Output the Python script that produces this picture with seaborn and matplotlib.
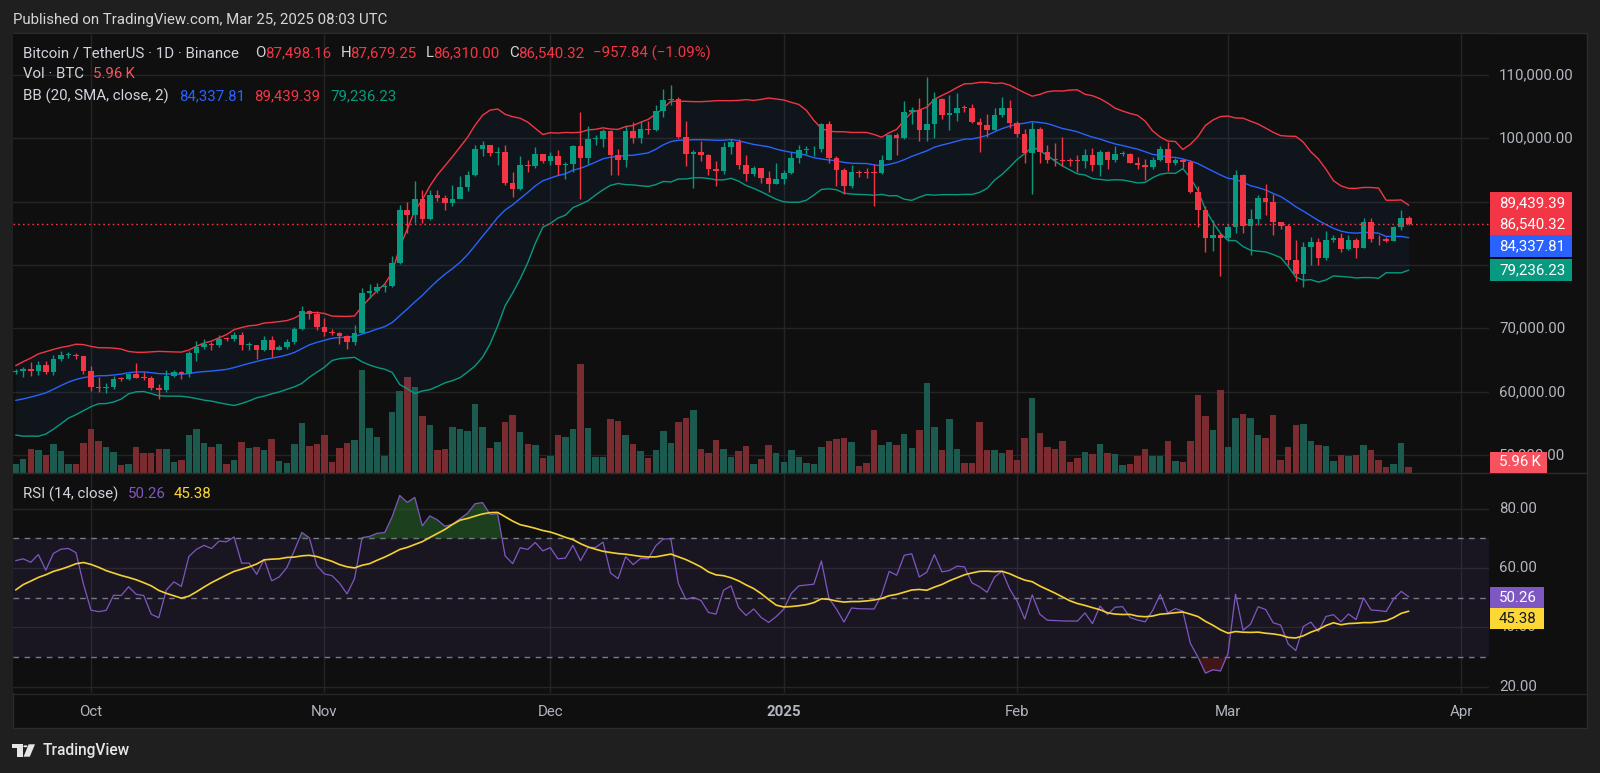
import numpy as np
import pandas as pd
import matplotlib
matplotlib.use("Agg")
import matplotlib.pyplot as plt
import seaborn as sns
from matplotlib.patches import Rectangle, Polygon, Circle
from matplotlib.transforms import blended_transform_factory as blend

# ---------------- data (BTCUSDT daily, Binance) ----------------
start_date = "2024-09-21"
# closes before the first visible candle (Jul 1 .. Sep 20 2024), used to warm up BB / RSI
warmup_closes = [
    62850, 62030, 60200, 57060, 56660, 58230, 55850, 56710, 58050, 57720, 57340, 57890, 59200, 60800,
    64720, 65040, 64090, 63970, 66680, 67150, 68160, 67540, 65930, 65370, 65780, 67910, 67810, 68250,
    66780, 66190, 64620,
    65350, 61500, 60680, 58120, 54020, 56040, 55130, 61690, 60840, 60920, 58710, 59350, 60600, 58740,
    57560, 58880, 59480, 58430, 59480, 59010, 61160, 60380, 64100, 64180, 64220, 62830, 59420, 59030,
    59360, 59120, 58970,
    57300, 59130, 57490, 57970, 56160, 53960, 54160, 54870, 57050, 57640, 57340, 58130, 60570, 60010,
    59130, 58210, 60310, 61760, 62950, 63200,
]
closes = [
    63350, 63580, 63330, 64260, 63140, 65180, 65770, 65870, 65600, 63300,
    60800, 60650, 60750, 62070, 62050, 62820, 62220, 62130, 60580, 60270, 62440, 63190, 62850, 66080,
    67040, 67610, 67400, 68400, 68360, 69000, 67370, 67380, 66650, 68160, 66630, 67020, 67930, 69910,
    72720, 72340, 70220,
    69500, 69360, 68740, 67810, 69360, 75640, 75900, 76540, 76680, 80370, 88650, 87950, 90380, 87300,
    91050, 90570, 89850, 90460, 92310, 94290, 98320, 98890, 97670, 97900, 93010, 91960, 95860, 95640,
    97460, 96410,
    97190, 95840, 95990, 98770, 96950, 99870, 99920, 101130, 97360, 96590, 101120, 100040, 101420,
    101370, 104300, 106060, 106140, 100200, 97460, 97800, 97290, 95190, 94880, 98660, 99430, 95790,
    94300, 95300, 93740, 92790, 93580,
    94590, 96890, 98110, 98240, 98360, 102240, 96950, 95040, 92480, 94700, 94570, 94550, 94520, 96530,
    100500, 99990, 104080, 104440, 101330, 102260, 106140, 103650, 103930, 104820, 104730, 102620,
    102080, 101330, 103730, 104730, 102430,
    100640, 97690, 101400, 97870, 96620, 96550, 96480, 96470, 96450, 97390, 95780, 97870, 96620, 97500,
    97570, 96120, 95770, 95540, 96640, 98330, 96130, 96580, 96270, 91550, 88740, 84350, 84700, 84350,
    86060, 94270, 86120, 87220, 90620, 89960, 86740, 86150, 80730, 78530, 82860, 83720, 81070, 83970,
    84340, 82580, 84010, 82720, 86850, 84170, 84040, 83830, 86080, 87498.16, 86540.32,
]
highs = [
    63560, 64000, 64750, 64800, 64810, 65800, 66500, 66260, 66080, 65620,
    64130, 62390, 61470, 62480, 62370, 62980, 64480, 63200, 62540, 61320, 63400, 63480, 63290, 66500,
    67950, 68420, 67930, 68960, 68700, 69400, 69500, 67830, 67450, 68830, 68800, 67450, 68370, 70270,
    73620, 72960, 72700,
    71630, 69910, 69400, 69000, 70580, 76460, 76950, 77200, 76950, 81500, 89530, 89960, 93260, 91790,
    91850, 91800, 91000, 92600, 94000, 94900, 98980, 99590, 98830, 98650, 98870, 94700, 97210, 96650,
    98690, 97460,
    97900, 98160, 96300, 99000, 104090, 101900, 100550, 101400, 101320, 98270, 101900, 102540, 102650,
    102650, 105250, 107790, 108350, 106470, 102800, 98150, 99540, 97450, 96420, 99400, 99960, 99960,
    97300, 95670, 95370, 94900, 96150,
    94930, 97840, 98980, 98740, 98800, 102480, 102720, 97260, 95380, 95840, 95000, 95360, 95900, 97370,
    100680, 100860, 105870, 104990, 106310, 109590, 107240, 106330, 106850, 107100, 105280, 105460,
    103220, 103780, 104780, 106460, 106010,
    102780, 101460, 102500, 101750, 99000, 99200, 100140, 96880, 97330, 98350, 98500, 98120, 98000,
    98830, 97970, 97730, 97040, 96700, 97000, 98770, 99480, 96900, 96670, 96500, 92510, 89290, 87080,
    85120,
    86560, 95000, 94420, 88910, 91000, 92810, 91280, 86850, 86500, 83960, 83620, 84360, 84300, 85310,
    84670, 85050, 84720, 84350, 87450, 87440, 84780, 84510, 86100, 88760, 87679.25,
]
lows = [
    62760, 62400, 62560, 62700, 62870, 62670, 64800, 65420, 65250, 62860,
    60160, 59980, 59830, 60460, 61690, 61800, 62120, 61820, 60300, 58950, 60050, 62420, 62000, 62420,
    64800, 66750, 66670, 67100, 68100, 68100, 66570, 66570, 65260, 66440, 65520, 66530, 66810, 67550,
    69730, 71420, 69690,
    68820, 68900, 67480, 66840, 67460, 69320, 74750, 75570, 75830, 76490, 80220, 85070, 86620, 86670,
    87060, 90090, 88720, 89390, 90950, 91610, 94110, 97130, 97180, 95760, 92600, 90790, 91820, 94650,
    95330, 96150,
    95770, 94200, 93580, 94660, 90500, 95980, 98950, 98690, 94150, 94250, 95500, 99310, 99210, 100620,
    101230, 103330, 105320, 100000, 95670, 92180, 96400, 94200, 92400, 94420, 97600, 95140, 93270,
    94100, 93000, 91530, 92780,
    92800, 94400, 96120, 97530, 97250, 97910, 96130, 92500, 91200, 92200, 93830, 93700, 89260, 94320,
    96500, 97300, 99950, 102280, 99600, 99550, 100120, 103110, 101260, 102750, 104100, 102460, 97780,
    100230, 101330, 103330, 101550,
    100280, 96150, 91230, 96150, 96160, 95680, 95620, 95690, 94710, 95250, 94850, 94090, 95150, 96250,
    97230, 96050, 95200, 93390, 95200, 96420, 94870, 95720, 95270, 91370, 86050, 82130, 82260, 78260,
    83830, 85050, 85080, 81530, 86330, 87850, 84670, 85750, 80000, 77460, 76610, 80050, 79940, 80760,
    83630, 82020, 82460, 81140, 82640, 83650, 83180, 83650, 83770, 85540, 86310,
]
vol_k = [
    8.5, 13.5, 23.0, 21.5, 17.0, 27.2, 21.1, 8.8, 8.2, 28.1,
    41.3, 30.0, 24.6, 19.9, 7.6, 8.8, 24.6, 18.6, 18.6, 23.0, 22.4, 10.4, 12.0, 35.7, 41.6, 28.1, 24.3,
    27.2, 8.2, 12.0, 29.3, 23.9, 24.3, 21.5, 32.6, 11.6, 9.0, 27.7, 47.3, 25.5, 27.7,
    36.2, 10.7, 23.7, 28.7, 31.2, 97.7, 42.6, 34.3, 16.4, 58.0, 77.3, 91.1, 81.4, 53.6, 45.1, 21.8, 23.0,
    43.8, 41.6, 39.7, 65.3, 43.8, 23.7, 29.6, 48.2, 54.6, 39.1, 27.4, 26.8, 14.2,
    16.4, 36.2, 33.8, 41.6, 103.1, 42.6, 14.9, 14.9, 51.1, 48.9, 35.9, 27.7, 20.8, 13.9, 21.8, 39.4, 28.1,
    48.0, 52.0, 59.6, 22.7, 18.6, 31.5, 22.7, 14.9, 20.5, 25.3, 8.5, 13.2, 26.5, 18.9,
    10.1, 21.8, 15.4, 9.2, 8.5, 24.3, 30.6, 32.2, 32.8, 29.6, 6.9, 9.2, 40.7, 26.8, 29.3, 26.8, 37.2, 23.4,
    41.0, 84.9, 43.5, 21.8, 51.1, 22.7, 9.2, 9.5, 48.2, 21.8, 21.8, 18.6, 21.8,
    12.3, 32.8, 70.7, 38.1, 24.9, 22.7, 30.3, 10.1, 13.9, 19.6, 18.0, 27.7, 18.9, 18.0, 7.9, 8.5, 16.1,
    22.7, 15.8, 16.4, 30.6, 11.6, 10.7, 30.6, 73.8, 53.6, 40.7, 78.5,
    24.9, 51.7, 55.8, 52.0, 36.2, 33.1, 54.6, 12.6, 24.9, 45.1, 46.4, 30.6, 26.5, 25.5, 11.6, 17.3, 16.4,
    17.3, 26.8, 21.8, 12.3, 6.0, 8.5, 28.7, 5.96,
]
month_labels = ["Oct", "Nov", "Dec", "2025", "Feb", "Mar", "Apr"]
month_starts = ["2024-10-01", "2024-11-01", "2024-12-01", "2025-01-01", "2025-02-01", "2025-03-01", "2025-04-01"]
price_ticks = [110000, 100000, 70000, 60000, 50000]
price_tick_labels = ["110,000.00", "100,000.00", "70,000.00", "60,000.00", "50,000.00"]
rsi_ticks = [80, 60, 40, 20]
last_price = 86540.32
legend_ohlc = ["87,498.16", "87,679.25", "86,310.00", "86,540.32"]
legend_change = "\u2212957.84 (\u22121.09%)"
legend_vol = "5.96\u2009K"
bb_text = ["84,337.81", "89,439.39", "79,236.23"]
rsi_text = ["50.26", "45.38"]

# ---------------- derived series ----------------
dates = pd.date_range(start_date, periods=len(closes), freq="D")
xs = np.arange(len(closes), dtype=float)
o = np.array([warmup_closes[-1]] + closes[:-1], dtype=float)
c = np.array(closes, dtype=float)
h = np.array(highs, dtype=float)
l = np.array(lows, dtype=float)
v = np.array(vol_k, dtype=float)
up = c >= o

full = pd.Series(warmup_closes + closes, dtype=float)
n0 = len(warmup_closes)
mid = full.rolling(20).mean()
sd = full.rolling(20).std(ddof=0)
bb = pd.DataFrame({"x": xs, "mid": mid.values[n0:], "upper": (mid + 2 * sd).values[n0:],
                   "lower": (mid - 2 * sd).values[n0:]})
d = full.diff()
gain = d.clip(lower=0).ewm(alpha=1 / 14, adjust=False).mean()
loss = (-d.clip(upper=0)).ewm(alpha=1 / 14, adjust=False).mean()
rsi_full = 100 - 100 / (1 + gain / loss)
rsi_ma_full = rsi_full.rolling(14).mean()
rsi_df = pd.DataFrame({"x": xs, "rsi": rsi_full.values[n0:], "ma": rsi_ma_full.values[n0:]})

tick_x = [(pd.Timestamp(m) - dates[0]).days for m in month_starts]

# ---------------- style ----------------
sns.set_theme(style="dark")
plt.rcParams["font.family"] = ["Roboto", "DejaVu Sans"]
plt.rcParams["axes.unicode_minus"] = False

UP, DOWN = "#089981", "#f23645"
VUP, VDOWN = "#1c5a50", "#7b2c31"
BG, OUTER = "#0f0f0f", "#1f1f1f"
GRID = "#242424"
TXT = "#d1d4dc"
FS = 10.8

W, H = 1600, 773
fig = plt.figure(figsize=(16, 7.73), dpi=100, facecolor=OUTER)


def rect(x0, y0, x1, y1):
    return [x0 / W, 1 - y1 / H, (x1 - x0) / W, (y1 - y0) / H]


def fx(x):
    return x / W


def fy(y):
    return 1 - y / H


def ftext(x, y, s, color=TXT, size=FS, ha="left", weight="normal", z=6, **kw):
    return fig.text(fx(x), fy(y), s, color=color, fontsize=size, ha=ha, va="center",
                    fontweight=weight, zorder=z, **kw)


def fbox(x0, y0, x1, y1, color, z=5):
    fig.add_artist(Rectangle((fx(x0), fy(y1)), (x1 - x0) / W, (y1 - y0) / H, transform=fig.transFigure,
                             facecolor=color, edgecolor="none", zorder=z))


# chart box
fig.add_artist(Rectangle((fx(12.5), fy(728)), (1587 - 12.5) / W, (728 - 33) / H, transform=fig.transFigure,
                         facecolor=BG, edgecolor="#2c2c2c", lw=1, zorder=-1))

XL = (-0.4, 195.66)
PRICE_LIM = (47208, 116451)
RSI_LIM = (17.88, 91.69)

# ---------------- price pane ----------------
ax_v = fig.add_axes(rect(12.7, 34, 1489, 473))
ax_p = fig.add_axes(rect(12.7, 34, 1489, 473), sharex=ax_v)
ax_v.set_zorder(1)
ax_p.set_zorder(2)
ax_p.patch.set_visible(False)
ax_v.set_facecolor(BG)
ax_p.set_ylim(*PRICE_LIM)
ax_v.set_ylim(0, (473 - 34) / 1.057)
ax_v.set_xlim(*XL)

# grid (behind volume)
gtr = blend(ax_v.transAxes, ax_p.transData)
for p in range(50000, 120000, 10000):
    ax_v.plot([0, 1], [p, p], transform=gtr, color=GRID, lw=1, zorder=0)
for tx in tick_x:
    ax_v.axvline(tx, color=GRID, lw=1, zorder=0)

ax_v.bar(xs, v, width=0.86, color=np.where(up, VUP, VDOWN), linewidth=0, zorder=2)

ax_p.fill_between(bb["x"], bb["lower"], bb["upper"], color="#2196f3", alpha=0.05, lw=0, zorder=1)
sns.lineplot(data=bb, x="x", y="mid", ax=ax_p, color="#2962ff", linewidth=1.0, legend=False, zorder=2)
sns.lineplot(data=bb, x="x", y="upper", ax=ax_p, color=DOWN, linewidth=1.0, legend=False, zorder=2)
sns.lineplot(data=bb, x="x", y="lower", ax=ax_p, color=UP, linewidth=1.0, legend=False, zorder=2)

cols = np.where(up, UP, DOWN)
ax_p.vlines(xs, l, h, colors=cols, linewidth=1.0, zorder=3)
body_lo = np.minimum(o, c)
body_h = np.maximum(np.abs(c - o), 150)
ax_p.bar(xs, body_h, bottom=body_lo, width=0.74, color=cols, linewidth=0, zorder=4)
ax_p.axhline(last_price, color=DOWN, lw=1.0, linestyle=(0, (1.2, 2.2)), zorder=5)

for a in (ax_v, ax_p):
    a.set_xlabel("")
    a.set_ylabel("")
    a.set_xticks([])
    a.set_yticks([])
    for s in a.spines.values():
        s.set_visible(False)
ax_p.set_xlim(*XL)

# ---------------- RSI pane ----------------
ax_r = fig.add_axes(rect(12.7, 474, 1489, 693), sharex=ax_v)
ax_r.set_facecolor(BG)
ax_r.set_ylim(*RSI_LIM)
for g in rsi_ticks:
    ax_r.axhline(g, color=GRID, lw=1, zorder=0)
for tx in tick_x:
    ax_r.axvline(tx, color=GRID, lw=1, zorder=0)
ax_r.axhspan(30, 70, color="#7e57c2", alpha=0.1, lw=0, zorder=1)
for lvl in (70, 50, 30):
    ax_r.axhline(lvl, color="#787b86", lw=1, linestyle=(0, (4, 4)), zorder=2)
r = rsi_df["rsi"].values
ax_r.fill_between(xs, 70, r, where=r >= 70, interpolate=True, color="#2e7d32", alpha=0.45, lw=0, zorder=2)
ax_r.fill_between(xs, 30, r, where=r <= 30, interpolate=True, color="#b22833", alpha=0.3, lw=0, zorder=2)
sns.lineplot(data=rsi_df, x="x", y="rsi", ax=ax_r, color="#7e57c2", linewidth=0.9, legend=False, zorder=3)
sns.lineplot(data=rsi_df, x="x", y="ma", ax=ax_r, color="#f5d033", linewidth=1.2, legend=False, zorder=4)
ax_r.set_xlabel("")
ax_r.set_ylabel("")
ax_r.set_xticks([])
ax_r.set_yticks([])
for s in ax_r.spines.values():
    s.set_visible(False)
ax_r.set_xlim(*XL)

# pane separators
fig.add_artist(plt.Line2D([fx(12.7), fx(1587)], [fy(473.5), fy(473.5)], transform=fig.transFigure,
                          color="#2c2c2c", lw=1, zorder=3))
fig.add_artist(plt.Line2D([fx(12.7), fx(1587)], [fy(693.5), fy(693.5)], transform=fig.transFigure,
                          color="#262626", lw=1, zorder=3))

# ---------------- axis labels ----------------
ptr = blend(fig.transFigure, ax_p.transData)
for p, s in zip(price_ticks, price_tick_labels):
    fig.text(fx(1499), p, s, transform=ptr, color="#b2b5be", fontsize=FS, va="center", ha="left", zorder=4)
rtr = blend(fig.transFigure, ax_r.transData)
for g in rsi_ticks:
    fig.text(fx(1499), g, f"{g:.2f}", transform=rtr, color="#b2b5be", fontsize=FS, va="center", ha="left",
             zorder=4)
ttr = blend(ax_r.transData, fig.transFigure)
for tx, s in zip(tick_x, month_labels):
    fig.text(tx, fy(711.7), s, transform=ttr, color="#b2b5be", fontsize=FS, va="center", ha="center",
             fontweight="bold" if s == "2025" else "normal", zorder=4)

# value boxes on the scale
for (yc, s, col) in [(202.8, bb_text[1], DOWN), (224.2, legend_ohlc[3], DOWN),
                     (245.8, bb_text[0], "#2962ff"), (270.0, bb_text[2], UP)]:
    fbox(1490, yc - 10.7, 1572, yc + 10.7, col)
    ftext(1499, yc, s, color="white")
fbox(1490, 451.7, 1547, 473.3, "#f7525f")
ftext(1499, 462.5, legend_vol, color="white")
fbox(1490, 587.3, 1543.6, 608, "#7e57c2")
ftext(1499, 597.7, rsi_text[0], color="white")
fbox(1490, 608, 1543.6, 629.3, "#fdd835")
ftext(1499, 618.7, rsi_text[1], color="#131722")

# ---------------- legends / header ----------------
ftext(13, 20, "Published on TradingView.com, Mar 25, 2025 08:03 UTC", color="#d6d6d6")
ftext(23, 53.3, "Bitcoin / TetherUS \u00b7 1D \u00b7 Binance")
for lx, lab, vx, val in [(255.5, "O", 264.7, legend_ohlc[0]), (340.8, "H", 350.0, legend_ohlc[1]),
                         (425.7, "L", 433.5, legend_ohlc[2]), (509.0, "C", 518.0, legend_ohlc[3])]:
    ftext(lx, 53.3, lab)
    ftext(vx, 53.3, val, color=DOWN)
ftext(593, 53.3, legend_change, color=DOWN)
ftext(23, 74, "Vol \u00b7 BTC")
ftext(93, 74, legend_vol, color="#f7525f")
ftext(23, 96.7, "BB (20, SMA, close, 2)")
ftext(179, 96.7, bb_text[0], color="#2962ff")
ftext(254.6, 96.7, bb_text[1], color=DOWN)
ftext(330, 96.7, bb_text[2], color=UP)
ftext(23, 494, "RSI (14, close)")
ftext(128, 494, rsi_text[0], color="#7e57c2")
ftext(173.5, 494, rsi_text[1], color="#fdd835")

# logo (TradingView mark + wordmark)
LOGO = "#e6e6e6"


def fpoly(pts):
    fig.add_artist(Polygon([(fx(px), fy(py)) for px, py in pts], closed=True, transform=fig.transFigure,
                           facecolor=LOGO, edgecolor="none", zorder=6))


fpoly([(12.3, 744.3), (22.7, 744.3), (22.7, 756.7), (17.3, 756.7), (17.3, 748.3), (12.3, 748.3)])
fpoly([(28.6, 744.3), (35.0, 744.3), (29.8, 756.7), (23.6, 756.7)])
fig.add_artist(Circle((fx(25.4), fy(746.3)), 2.1 / W, transform=fig.transFigure, facecolor=LOGO,
                      edgecolor="none", zorder=6))
ftext(42.3, 750.7, "TradingView", color=LOGO, size=11.2, weight="medium")

fig.savefig("out.png", dpi=100, facecolor=OUTER)
